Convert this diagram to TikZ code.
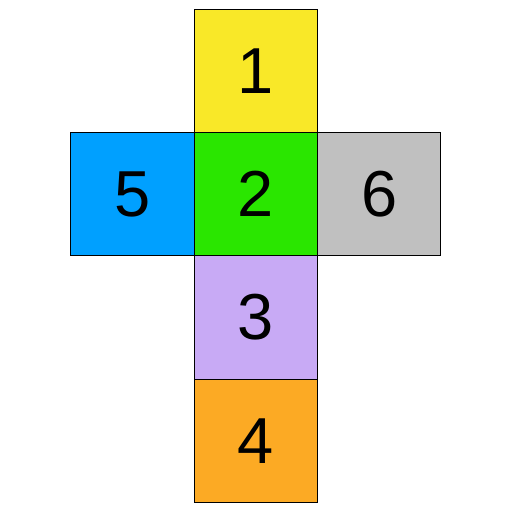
\documentclass[tikz,border=0pt]{standalone}
\usepackage{fontspec}
\setmainfont{Liberation Sans}
\definecolor{cyel}{RGB}{249,232,40}
\definecolor{cgrn}{RGB}{42,230,0}
\definecolor{cblu}{RGB}{0,160,255}
\definecolor{cgry}{RGB}{192,192,192}
\definecolor{cpur}{RGB}{200,170,245}
\definecolor{corg}{RGB}{252,170,36}
\begin{document}
\begin{tikzpicture}[x=1pt,y=-1pt,
  face/.style={draw=black,line width=1pt,minimum width=123.4pt,minimum height=123.4pt,inner sep=0pt,outer sep=0pt,font=\fontsize{65}{65}\selectfont}]
\useasboundingbox (0,0) rectangle (512,512);
\node[face,fill=cyel] (f1) at (255.8,70.8) {1};
\node[face,fill=cgrn] (f2) at (255.8,194.2) {2};
\node[face,fill=cpur] (f3) at (255.8,317.6) {3};
\node[face,fill=corg] (f4) at (255.8,441.0) {4};
\node[face,fill=cblu] (f5) at (132.4,194.2) {5};
\node[face,fill=cgry] (f6) at (379.2,194.2) {6};
\end{tikzpicture}
\end{document}
